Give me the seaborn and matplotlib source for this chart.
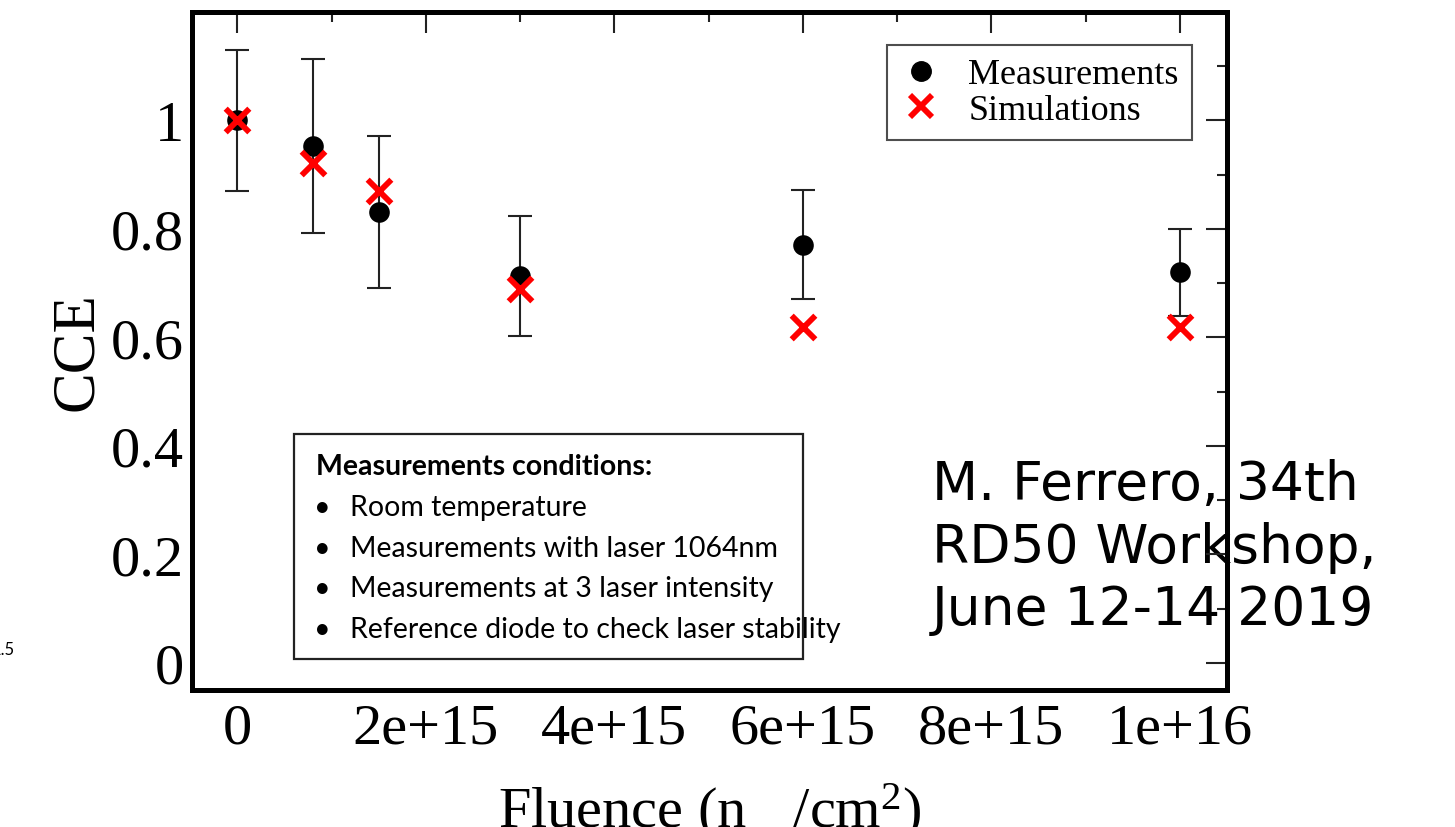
import numpy as np
import pandas as pd
import matplotlib
matplotlib.use("Agg")
import matplotlib.pyplot as plt
import seaborn as sns
from matplotlib.ticker import MultipleLocator, FixedLocator, FuncFormatter
from matplotlib.lines import Line2D
from matplotlib.patches import Rectangle

# Charge collection efficiency vs. fluence
fluence = [0.0, 0.8e15, 1.5e15, 3.0e15, 6.0e15, 1.0e16]
cce_meas = [1.00, 0.953, 0.832, 0.713, 0.771, 0.720]
cce_meas_err = [0.13, 0.16, 0.14, 0.11, 0.10, 0.08]
cce_sim = [1.00, 0.921, 0.870, 0.690, 0.619, 0.619]

y_ticks = [0.0, 0.2, 0.4, 0.6, 0.8, 1.0]
series_labels = ["Measurements", "Simulations"]
conditions_title = "Measurements conditions:"
conditions = [
    "Room temperature",
    "Measurements with laser 1064nm",
    "Measurements at 3 laser intensity",
    "Reference diode to check laser stability",
]
credit_lines = ["M. Ferrero, 34th", "RD50 Workshop,", "June 12-14 2019"]

sns.set_style("white")
plt.rcParams["font.family"] = ["Liberation Serif", "DejaVu Serif"]
plt.rcParams["mathtext.fontset"] = "custom"
plt.rcParams["mathtext.rm"] = "Liberation Serif"
plt.rcParams["mathtext.it"] = "Liberation Serif:italic"
for key in ["text.color", "axes.labelcolor", "xtick.color", "ytick.color"]:
    plt.rcParams[key] = "black"

W, H = 1455, 828
fig = plt.figure(figsize=(W / 100, H / 100), dpi=100)
fig.patch.set_facecolor("white")


def fpos(x, y):
    return x / W, 1 - y / H


ax = fig.add_axes([192 / W, 1 - 691 / H, (1227 - 192) / W, (691 - 13) / H])
ax.patch.set_alpha(0.0)

meas = pd.DataFrame({"fluence": fluence, "cce": cce_meas, "err": cce_meas_err})
sim = pd.DataFrame({"fluence": fluence, "cce": cce_sim})

ax.errorbar(meas["fluence"], meas["cce"], yerr=meas["err"], fmt="none",
            ecolor="#222222", elinewidth=1.5, capsize=8.5, capthick=1.5, zorder=2)
sns.scatterplot(data=meas, x="fluence", y="cce", ax=ax, color="black",
                marker="o", s=220, linewidth=0, zorder=3, legend=False)
sns.scatterplot(data=sim, x="fluence", y="cce", ax=ax, color="#ff0000",
                marker="x", s=290, linewidth=4.2, zorder=4, legend=False)

ax.set_xlim(-0.48e15, 10.5e15)
ax.set_ylim(-0.05, 1.2)
ax.xaxis.set_major_locator(MultipleLocator(2e15))
ax.xaxis.set_minor_locator(MultipleLocator(1e15))
ax.yaxis.set_major_locator(FixedLocator(y_ticks))
ax.yaxis.set_minor_locator(MultipleLocator(0.1))
fmt = FuncFormatter(lambda v, p: "%g" % v)
ax.xaxis.set_major_formatter(fmt)
ax.yaxis.set_major_formatter(fmt)

ax.tick_params(which="both", direction="in", top=True, right=True,
               color="#222222", width=1.5)
ax.tick_params(which="major", length=15)
ax.tick_params(which="minor", length=7.5)
ax.tick_params(axis="x", which="major", labelsize=42, pad=9)
ax.tick_params(axis="y", which="major", labelsize=42, pad=6)
for sp in ax.spines.values():
    sp.set_visible(True)
    sp.set_linewidth(3.6)
    sp.set_color("black")

ax.set_ylabel("CCE", fontsize=44, labelpad=4)
ax.set_xlabel(r"Fluence (n$\;\;\;\;$/cm$^{2}$)", fontsize=42, labelpad=19)

handles = [
    Line2D([], [], ls="", marker="o", color="black", markersize=14),
    Line2D([], [], ls="", marker="x", color="#ff0000", markersize=16, mew=4.2),
]
leg = ax.legend(handles, series_labels, loc="upper right",
                bbox_to_anchor=(0.966, 0.951), borderaxespad=0,
                fontsize=26, frameon=True, fancybox=False, handlelength=1.2,
                handletextpad=0.7, borderpad=0.36, labelspacing=0.05)
leg.get_frame().set_edgecolor("#222222")
leg.get_frame().set_linewidth(1.5)

# Conditions box
x0, y0 = fpos(294, 660)
x1, y1 = fpos(803, 435)
fig.patches.append(Rectangle((x0, y0), x1 - x0, y1 - y0, transform=fig.transFigure,
                             facecolor="white", edgecolor="#222222", linewidth=1.6,
                             zorder=5))
sans = ["Lato", "DejaVu Sans"]
tx, ty = fpos(316, 467)
fig.text(tx, ty, conditions_title, family=sans, fontweight="bold", fontsize=20.5,
         va="center", ha="left", color="black", zorder=6)
for i, line in enumerate(conditions):
    yy = 508 + i * 40.7
    bx, by = fpos(322, yy)
    fig.text(bx, by, "\u2022", family=sans, fontsize=20.5, va="center",
             ha="center", color="black", zorder=6)
    lx, ly = fpos(350, yy)
    fig.text(lx, ly, line, family=sans, fontsize=20.5, va="center", ha="left",
             color="black", zorder=6)

# Credit, drawn beneath the axes frame
for i, line in enumerate(credit_lines):
    cx, cy = fpos(932, 500 + i * 62.5)
    fig.text(cx, cy, line, family=["DejaVu Sans"], fontsize=38.5, va="baseline",
             ha="left", color="black", zorder=-1)

# Clipped page number on the left
px_, py_ = fpos(15, 650)
fig.text(px_, py_, "1.5", family=sans, fontsize=12, va="center", ha="right",
         color="black")

fig.savefig("out.png", dpi=100, facecolor="white")
